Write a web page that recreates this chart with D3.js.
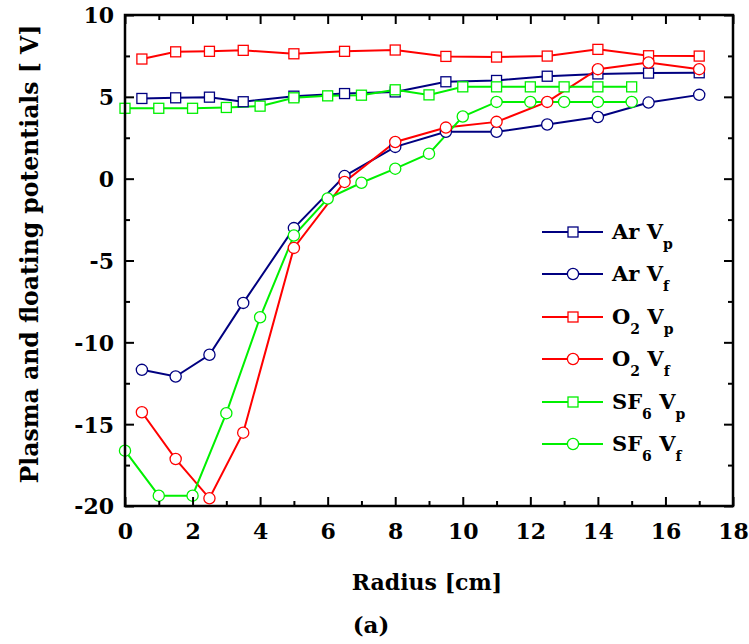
<!DOCTYPE html>
<html>
<head>
<meta charset="utf-8">
<script src="https://cdn.jsdelivr.net/npm/d3@7"></script>
<style>
  html, body { margin: 0; padding: 0; background: #fff; }
  svg text { font-family: "DejaVu Serif", "Liberation Serif", serif; font-weight: bold; fill: #000; }
</style>
</head>
<body>
<svg id="chart" width="749" height="644"></svg>
<script>
// Radial positions (cm)
const radiusAr = [0.5, 1.5, 2.5, 3.5, 5, 6.5, 8, 9.5, 11, 12.5, 14, 15.5, 17];
const radiusO2 = [0.5, 1.5, 2.5, 3.5, 5, 6.5, 8, 9.5, 11, 12.5, 14, 15.5, 17];
const radiusSF6 = [0, 1, 2, 3, 4, 5, 6, 7, 8, 9, 10, 11, 12, 13, 14, 15];

// Plasma potential Vp and floating potential Vf (V)
const arVp  = [4.9, 4.94, 4.98, 4.7, 5.04, 5.2, 5.3, 5.92, 6.0, 6.26, 6.4, 6.45, 6.47];
const arVf  = [-11.68, -12.09, -10.76, -7.59, -3.02, 0.16, 1.94, 2.86, 2.86, 3.31, 3.77, 4.65, 5.12];
const o2Vp  = [7.31, 7.75, 7.78, 7.84, 7.63, 7.78, 7.86, 7.47, 7.43, 7.49, 7.9, 7.51, 7.49];
const o2Vf  = [-14.27, -17.13, -19.53, -15.52, -4.23, -0.2, 2.24, 3.12, 3.47, 4.69, 6.69, 7.1, 6.69];
const sf6Vp = [4.3, 4.3, 4.3, 4.35, 4.43, 4.94, 5.06, 5.1, 5.43, 5.12, 5.61, 5.61, 5.61, 5.61, 5.61, 5.61];
const sf6Vf = [-16.62, -19.37, -19.37, -14.33, -8.47, -3.47, -1.21, -0.25, 0.61, 1.53, 3.8, 4.69, 4.69, 4.69, 4.69, 4.69];

const xTicks = [0, 2, 4, 6, 8, 10, 12, 14, 16, 18];
const yTicks = [-20, -15, -10, -5, 0, 5, 10];

const series = [
  { gas: "Ar",  sub: "",  v: "p", color: "#000080", shape: "square", x: radiusAr,  y: arVp },
  { gas: "Ar",  sub: "",  v: "f", color: "#000080", shape: "circle", x: radiusAr,  y: arVf },
  { gas: "O",   sub: "2", v: "p", color: "#ff0000", shape: "square", x: radiusO2,  y: o2Vp },
  { gas: "O",   sub: "2", v: "f", color: "#ff0000", shape: "circle", x: radiusO2,  y: o2Vf },
  { gas: "SF",  sub: "6", v: "p", color: "#00f000", shape: "square", x: radiusSF6, y: sf6Vp },
  { gas: "SF",  sub: "6", v: "f", color: "#00f000", shape: "circle", x: radiusSF6, y: sf6Vf }
];

const svg = d3.select("#chart");
const m = { left: 125, right: 749 - 733, top: 15, bottom: 644 - 506 };
const W = 749 - m.left - m.right, H = 644 - m.top - m.bottom;

const x = d3.scaleLinear().domain([0, 18]).range([m.left, m.left + W]);
const y = d3.scaleLinear().domain([-20, 10]).range([m.top + H, m.top]);

const g = svg.append("g");

function marker(sel, shape, color) {
  if (shape === "square") {
    sel.append("rect").attr("x", -5).attr("y", -5).attr("width", 10).attr("height", 10)
      .attr("fill", "#fff").attr("stroke", color).attr("stroke-width", 1.3);
  } else {
    sel.append("circle").attr("r", 5.6)
      .attr("fill", "#fff").attr("stroke", color).attr("stroke-width", 1.3);
  }
}

// data lines and markers
const line = d3.line().x(d => x(d[0])).y(d => y(d[1]));
series.forEach(s => {
  const pts = s.x.map((xv, i) => [xv, s.y[i]]);
  g.append("path").datum(pts).attr("d", line)
    .attr("fill", "none").attr("stroke", s.color).attr("stroke-width", 2);
});
series.forEach(s => {
  s.x.forEach((xv, i) => {
    const mg = g.append("g").attr("transform", `translate(${x(xv)},${y(s.y[i])})`);
    marker(mg, s.shape, s.color);
  });
});

// frame with inward ticks on all four sides
const frame = svg.append("g");
frame.append("rect").attr("x", m.left).attr("y", m.top).attr("width", W).attr("height", H)
  .attr("fill", "none").attr("stroke", "#000").attr("stroke-width", 2.5);

const xMinor = d3.range(1, 18, 2);
const yMinor = d3.range(-17.5, 10, 5);
const fmt = d => String(d).replace("-", "- ").replace("- ", "-");

function ticks(axis) {
  axis.select(".domain").remove();
  axis.selectAll(".tick line").attr("stroke", "#000").attr("stroke-width", 2);
}
const xb = frame.append("g").attr("transform", `translate(0,${m.top + H})`)
  .call(d3.axisBottom(x).tickValues(xTicks).tickSize(-9).tickPadding(17).tickFormat(fmt));
ticks(xb);
frame.append("g").attr("transform", `translate(0,${m.top + H})`)
  .call(d3.axisBottom(x).tickValues(xMinor).tickSize(-5).tickFormat("")).call(ticks);
frame.append("g").attr("transform", `translate(0,${m.top})`)
  .call(d3.axisTop(x).tickValues(xTicks).tickSize(-9).tickFormat("")).call(ticks);
frame.append("g").attr("transform", `translate(0,${m.top})`)
  .call(d3.axisTop(x).tickValues(xMinor).tickSize(-5).tickFormat("")).call(ticks);

const yl = frame.append("g").attr("transform", `translate(${m.left},0)`)
  .call(d3.axisLeft(y).tickValues(yTicks).tickSize(-9).tickPadding(11).tickFormat(fmt));
ticks(yl);
frame.append("g").attr("transform", `translate(${m.left},0)`)
  .call(d3.axisLeft(y).tickValues(yMinor).tickSize(-5).tickFormat("")).call(ticks);
frame.append("g").attr("transform", `translate(${m.left + W},0)`)
  .call(d3.axisRight(y).tickValues(yTicks).tickSize(-9).tickFormat("")).call(ticks);
frame.append("g").attr("transform", `translate(${m.left + W},0)`)
  .call(d3.axisRight(y).tickValues(yMinor).tickSize(-5).tickFormat("")).call(ticks);

frame.selectAll(".tick text")
  .style("font-family", '"DejaVu Serif", serif').style("font-weight", "bold")
  .style("font-size", "22px").attr("fill", "#000");
yl.selectAll(".tick text").attr("dy", "0.36em");

// axis titles
svg.append("text").attr("x", 427).attr("y", 590).attr("text-anchor", "middle")
  .style("font-size", "22px").text("Radius [cm]");
svg.append("text").attr("x", 371).attr("y", 633).attr("text-anchor", "middle")
  .style("font-size", "23px").text("(a)");
svg.append("text").attr("transform", "translate(38,254) rotate(-90)").attr("text-anchor", "middle")
  .style("font-size", "23.5px").text("Plasma and floating potentials [ V]");

// legend
const leg = svg.append("g");
const legY = [232, 274, 317, 359, 402, 444];
series.forEach((s, i) => {
  const row = leg.append("g").attr("transform", `translate(0,${legY[i]})`);
  row.append("line").attr("x1", 542).attr("x2", 603).attr("stroke", s.color).attr("stroke-width", 2);
  marker(row.append("g").attr("transform", "translate(573,0)"), s.shape, s.color);
  const t = row.append("text").attr("x", 612).attr("y", 7).style("font-size", "21px");
  t.append("tspan").text(s.gas);
  if (s.sub) t.append("tspan").attr("dy", 10).style("font-size", "14px").text(s.sub);
  t.append("tspan").attr("dy", s.sub ? -10 : 0).text(" V");
  t.append("tspan").attr("dy", 10).style("font-size", "14px").text(s.v);
});
</script>
</body>
</html>
